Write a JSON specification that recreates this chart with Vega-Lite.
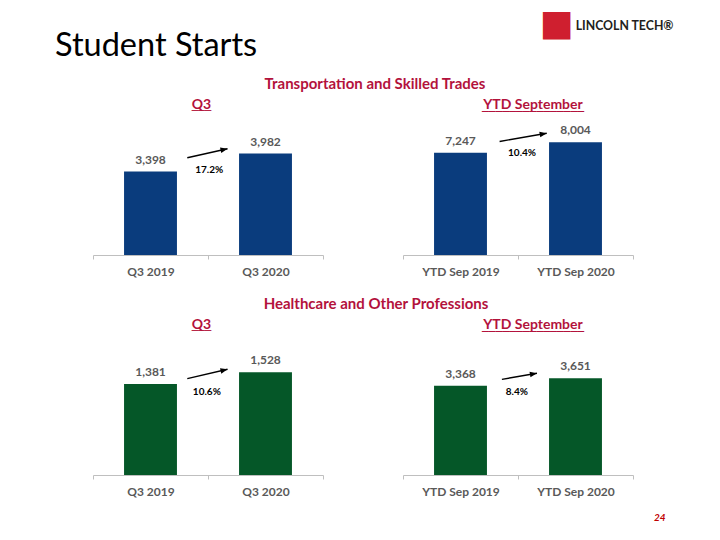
{
  "$schema": "https://vega.github.io/schema/vega-lite/v6.json",
  "background": "white",
  "padding": {"left": 55, "top": 5, "right": 5, "bottom": 5},
  "config": {
    "view": {"stroke": null},
    "font": "Lato",
    "title": {"font": "Lato"},
    "axis": {"title": null, "labelFont": "Lato", "labelFontSize": 12, "labelFontWeight": "bold", "labelColor": "#595959", "domainColor": "#BFBFBF", "tickColor": "#BFBFBF", "tickSize": 4, "tickBand": "extent", "labelPadding": 7, "labelAngle": 0, "grid": false}
  },
  "datasets": {
    "starts": [
      {"program": "Transportation and Skilled Trades", "span": "Q3", "period": "Q3 2019", "starts": 3398},
      {"program": "Transportation and Skilled Trades", "span": "Q3", "period": "Q3 2020", "starts": 3982},
      {"program": "Transportation and Skilled Trades", "span": "YTD September", "period": "YTD Sep 2019", "starts": 7247},
      {"program": "Transportation and Skilled Trades", "span": "YTD September", "period": "YTD Sep 2020", "starts": 8004},
      {"program": "Healthcare and Other Professions", "span": "Q3", "period": "Q3 2019", "starts": 1381},
      {"program": "Healthcare and Other Professions", "span": "Q3", "period": "Q3 2020", "starts": 1528},
      {"program": "Healthcare and Other Professions", "span": "YTD September", "period": "YTD Sep 2019", "starts": 3368},
      {"program": "Healthcare and Other Professions", "span": "YTD September", "period": "YTD Sep 2020", "starts": 3651}
    ],
    "changes": [
      {"program": "Transportation and Skilled Trades", "span": "Q3", "change": 0.172, "x_from": 0.82, "x_to": 1.17, "y_from": 3844, "y_to": 4136, "label_x": 1.01, "label_y": 3432},
      {"program": "Transportation and Skilled Trades", "span": "YTD September", "change": 0.104, "x_from": 0.84, "x_to": 1.25, "y_from": 8054, "y_to": 8643, "label_x": 1.035, "label_y": 7202},
      {"program": "Healthcare and Other Professions", "span": "Q3", "change": 0.106, "x_from": 0.82, "x_to": 1.17, "y_from": 1448, "y_to": 1566, "label_x": 0.99, "label_y": 1285},
      {"program": "Healthcare and Other Professions", "span": "YTD September", "change": 0.084, "x_from": 0.86, "x_to": 1.165, "y_from": 3613, "y_to": 3840, "label_x": 0.99, "label_y": 3145}
    ]
  },
  "title": {"text": "■", "color": "#CF1F2F", "anchor": "end", "font": "DejaVu Sans", "fontSize": 36, "fontWeight": "normal", "dx": -100, "offset": -23},
  "vconcat": [
    {
      "title": {"text": "LINCOLN TECH®", "anchor": "end", "font": "Lato", "fontWeight": "bold", "fontSize": 12.3, "color": "#231F20", "dx": 8, "offset": -2},
      "vconcat": [
        {
          "title": {"text": "24", "orient": "bottom", "anchor": "end", "font": "Lato", "fontStyle": "italic", "fontWeight": "bold", "fontSize": 10, "color": "#C00000", "dx": 32, "offset": 16},
          "vconcat": [
            {
              "title": {"text": "Student Starts", "anchor": "start", "font": "Lato", "fontSize": 32.5, "fontWeight": "normal", "color": "#000000", "dx": -37.5, "offset": 14.5},
              "spacing": 20,
              "vconcat": [
                {
                  "title": {"text": "Transportation and Skilled Trades", "anchor": "middle", "fontSize": 15, "fontWeight": "bold", "color": "#B3123C", "dx": 12, "offset": 6},
                  "spacing": 78,
                  "hconcat": [
                    {
                      "width": 230, "height": 133,
                      "title": {"text": "Q3", "subtitle": "___", "subtitleFont": "DejaVu Sans", "subtitleFontSize": 13, "subtitleColor": "#B3123C", "subtitlePadding": -14, "fontSize": 14, "fontWeight": "bold", "color": "#B3123C", "dx": -6.5, "offset": 10},
                      "layer": [
                        {"data": {"name": "starts"}, "transform": [{"filter": "datum.program === 'Transportation and Skilled Trades' && datum.span === 'Q3'"}],
                         "mark": {"type": "bar", "width": {"band": 0.46}, "color": "#0A3C7D"},
                         "encoding": {"x": {"field": "period", "type": "nominal", "sort": null, "scale": {"paddingInner": 0, "paddingOuter": 0}},
                                      "y": {"field": "starts", "type": "quantitative", "scale": {"domain": [690, 5005], "zero": false, "nice": false, "clamp": true}, "axis": null}}},
                        {"data": {"name": "starts"}, "transform": [{"filter": "datum.program === 'Transportation and Skilled Trades' && datum.span === 'Q3'"}],
                         "mark": {"type": "text", "dy": -12, "fontSize": 12, "fontWeight": "bold", "color": "#595959", "baseline": "middle"},
                         "encoding": {"x": {"field": "period", "type": "nominal", "sort": null, "scale": {"paddingInner": 0, "paddingOuter": 0}, "axis": null},
                                      "y": {"field": "starts", "type": "quantitative", "scale": {"domain": [690, 5005], "zero": false, "nice": false, "clamp": true}, "axis": null},
                                      "text": {"field": "starts", "type": "quantitative", "format": ","}}},
                        {"data": {"name": "changes"}, "transform": [{"filter": "datum.program === 'Transportation and Skilled Trades' && datum.span === 'Q3'"}],
                         "mark": {"type": "rule", "strokeWidth": 1.4, "color": "#000000"},
                         "encoding": {"x": {"field": "x_from", "type": "quantitative", "scale": {"domain": [0, 2], "nice": false, "zero": false}, "axis": null}, "x2": {"field": "x_to"},
                                      "y": {"field": "y_from", "type": "quantitative", "scale": {"domain": [690, 5005], "zero": false, "nice": false, "clamp": true}, "axis": null}, "y2": {"field": "y_to"}}},
                        {"data": {"name": "changes"}, "transform": [{"filter": "datum.program === 'Transportation and Skilled Trades' && datum.span === 'Q3'"}],
                         "mark": {"type": "point", "shape": "M0,0L-1,-0.4L-1,0.4Z", "filled": true, "opacity": 1, "color": "#000000", "size": 200, "angle": -12.5},
                         "encoding": {"x": {"field": "x_to", "type": "quantitative", "scale": {"domain": [0, 2], "nice": false, "zero": false}, "axis": null},
                                      "y": {"field": "y_to", "type": "quantitative", "scale": {"domain": [690, 5005], "zero": false, "nice": false, "clamp": true}, "axis": null}}},
                        {"data": {"name": "changes"}, "transform": [{"filter": "datum.program === 'Transportation and Skilled Trades' && datum.span === 'Q3'"}],
                         "mark": {"type": "text", "fontSize": 10, "fontWeight": "bold", "color": "#000000", "baseline": "middle"},
                         "encoding": {"x": {"field": "label_x", "type": "quantitative", "scale": {"domain": [0, 2], "nice": false, "zero": false}, "axis": null},
                                      "y": {"field": "label_y", "type": "quantitative", "scale": {"domain": [690, 5005], "zero": false, "nice": false, "clamp": true}, "axis": null},
                                      "text": {"field": "change", "type": "quantitative", "format": ".1%"}}}
                      ],
                      "resolve": {"scale": {"x": "independent"}}
                    },
                    {
                      "width": 230, "height": 133,
                      "title": {"text": "YTD September", "subtitle": "_______________", "subtitleFont": "DejaVu Sans", "subtitleFontSize": 13.6, "subtitleColor": "#B3123C", "subtitlePadding": -14, "fontSize": 14, "fontWeight": "bold", "color": "#B3123C", "dx": 15, "offset": 10},
                      "layer": [
                        {"data": {"name": "starts"}, "transform": [{"filter": "datum.program === 'Transportation and Skilled Trades' && datum.span === 'YTD September'"}],
                         "mark": {"type": "bar", "width": {"band": 0.46}, "color": "#0A3C7D"},
                         "encoding": {"x": {"field": "period", "type": "nominal", "sort": null, "scale": {"paddingInner": 0, "paddingOuter": 0}},
                                      "y": {"field": "starts", "type": "quantitative", "scale": {"domain": [0, 9437], "nice": false}, "axis": null}}},
                        {"data": {"name": "starts"}, "transform": [{"filter": "datum.program === 'Transportation and Skilled Trades' && datum.span === 'YTD September'"}],
                         "mark": {"type": "text", "dy": -12, "fontSize": 12, "fontWeight": "bold", "color": "#595959", "baseline": "middle"},
                         "encoding": {"x": {"field": "period", "type": "nominal", "sort": null, "scale": {"paddingInner": 0, "paddingOuter": 0}, "axis": null},
                                      "y": {"field": "starts", "type": "quantitative", "scale": {"domain": [0, 9437], "nice": false}, "axis": null},
                                      "text": {"field": "starts", "type": "quantitative", "format": ","}}},
                        {"data": {"name": "changes"}, "transform": [{"filter": "datum.program === 'Transportation and Skilled Trades' && datum.span === 'YTD September'"}],
                         "mark": {"type": "rule", "strokeWidth": 1.4, "color": "#000000"},
                         "encoding": {"x": {"field": "x_from", "type": "quantitative", "scale": {"domain": [0, 2], "nice": false, "zero": false}, "axis": null}, "x2": {"field": "x_to"},
                                      "y": {"field": "y_from", "type": "quantitative", "scale": {"domain": [0, 9437], "nice": false}, "axis": null}, "y2": {"field": "y_to"}}},
                        {"data": {"name": "changes"}, "transform": [{"filter": "datum.program === 'Transportation and Skilled Trades' && datum.span === 'YTD September'"}],
                         "mark": {"type": "point", "shape": "M0,0L-1,-0.4L-1,0.4Z", "filled": true, "opacity": 1, "color": "#000000", "size": 200, "angle": -10},
                         "encoding": {"x": {"field": "x_to", "type": "quantitative", "scale": {"domain": [0, 2], "nice": false, "zero": false}, "axis": null},
                                      "y": {"field": "y_to", "type": "quantitative", "scale": {"domain": [0, 9437], "nice": false}, "axis": null}}},
                        {"data": {"name": "changes"}, "transform": [{"filter": "datum.program === 'Transportation and Skilled Trades' && datum.span === 'YTD September'"}],
                         "mark": {"type": "text", "fontSize": 10, "fontWeight": "bold", "color": "#000000", "baseline": "middle"},
                         "encoding": {"x": {"field": "label_x", "type": "quantitative", "scale": {"domain": [0, 2], "nice": false, "zero": false}, "axis": null},
                                      "y": {"field": "label_y", "type": "quantitative", "scale": {"domain": [0, 9437], "nice": false}, "axis": null},
                                      "text": {"field": "change", "type": "quantitative", "format": ".1%"}}}
                      ],
                      "resolve": {"scale": {"x": "independent"}}
                    }
                  ]
                },
                {
                  "title": {"text": "Healthcare and Other Professions", "anchor": "middle", "fontSize": 15, "fontWeight": "bold", "color": "#B3123C", "dx": 13, "offset": 6},
                  "spacing": 78,
                  "hconcat": [
                    {
                      "width": 230, "height": 133,
                      "title": {"text": "Q3", "subtitle": "___", "subtitleFont": "DejaVu Sans", "subtitleFontSize": 13, "subtitleColor": "#B3123C", "subtitlePadding": -14, "fontSize": 14, "fontWeight": "bold", "color": "#B3123C", "dx": -6.5, "offset": 10},
                      "layer": [
                        {"data": {"name": "starts"}, "transform": [{"filter": "datum.program === 'Healthcare and Other Professions' && datum.span === 'Q3'"}],
                         "mark": {"type": "bar", "width": {"band": 0.46}, "color": "#055728"},
                         "encoding": {"x": {"field": "period", "type": "nominal", "sort": null, "scale": {"paddingInner": 0, "paddingOuter": 0}},
                                      "y": {"field": "starts", "type": "quantitative", "scale": {"domain": [238, 1909], "zero": false, "nice": false, "clamp": true}, "axis": null}}},
                        {"data": {"name": "starts"}, "transform": [{"filter": "datum.program === 'Healthcare and Other Professions' && datum.span === 'Q3'"}],
                         "mark": {"type": "text", "dy": -12, "fontSize": 12, "fontWeight": "bold", "color": "#595959", "baseline": "middle"},
                         "encoding": {"x": {"field": "period", "type": "nominal", "sort": null, "scale": {"paddingInner": 0, "paddingOuter": 0}, "axis": null},
                                      "y": {"field": "starts", "type": "quantitative", "scale": {"domain": [238, 1909], "zero": false, "nice": false, "clamp": true}, "axis": null},
                                      "text": {"field": "starts", "type": "quantitative", "format": ","}}},
                        {"data": {"name": "changes"}, "transform": [{"filter": "datum.program === 'Healthcare and Other Professions' && datum.span === 'Q3'"}],
                         "mark": {"type": "rule", "strokeWidth": 1.4, "color": "#000000"},
                         "encoding": {"x": {"field": "x_from", "type": "quantitative", "scale": {"domain": [0, 2], "nice": false, "zero": false}, "axis": null}, "x2": {"field": "x_to"},
                                      "y": {"field": "y_from", "type": "quantitative", "scale": {"domain": [238, 1909], "zero": false, "nice": false, "clamp": true}, "axis": null}, "y2": {"field": "y_to"}}},
                        {"data": {"name": "changes"}, "transform": [{"filter": "datum.program === 'Healthcare and Other Professions' && datum.span === 'Q3'"}],
                         "mark": {"type": "point", "shape": "M0,0L-1,-0.4L-1,0.4Z", "filled": true, "opacity": 1, "color": "#000000", "size": 200, "angle": -13},
                         "encoding": {"x": {"field": "x_to", "type": "quantitative", "scale": {"domain": [0, 2], "nice": false, "zero": false}, "axis": null},
                                      "y": {"field": "y_to", "type": "quantitative", "scale": {"domain": [238, 1909], "zero": false, "nice": false, "clamp": true}, "axis": null}}},
                        {"data": {"name": "changes"}, "transform": [{"filter": "datum.program === 'Healthcare and Other Professions' && datum.span === 'Q3'"}],
                         "mark": {"type": "text", "fontSize": 10, "fontWeight": "bold", "color": "#000000", "baseline": "middle"},
                         "encoding": {"x": {"field": "label_x", "type": "quantitative", "scale": {"domain": [0, 2], "nice": false, "zero": false}, "axis": null},
                                      "y": {"field": "label_y", "type": "quantitative", "scale": {"domain": [238, 1909], "zero": false, "nice": false, "clamp": true}, "axis": null},
                                      "text": {"field": "change", "type": "quantitative", "format": ".1%"}}}
                      ],
                      "resolve": {"scale": {"x": "independent"}}
                    },
                    {
                      "width": 230, "height": 133,
                      "title": {"text": "YTD September", "subtitle": "_______________", "subtitleFont": "DejaVu Sans", "subtitleFontSize": 13.6, "subtitleColor": "#B3123C", "subtitlePadding": -14, "fontSize": 14, "fontWeight": "bold", "color": "#B3123C", "dx": 15, "offset": 10},
                      "layer": [
                        {"data": {"name": "starts"}, "transform": [{"filter": "datum.program === 'Healthcare and Other Professions' && datum.span === 'YTD September'"}],
                         "mark": {"type": "bar", "width": {"band": 0.46}, "color": "#055728"},
                         "encoding": {"x": {"field": "period", "type": "nominal", "sort": null, "scale": {"paddingInner": 0, "paddingOuter": 0}},
                                      "y": {"field": "starts", "type": "quantitative", "scale": {"domain": [0, 5022], "nice": false}, "axis": null}}},
                        {"data": {"name": "starts"}, "transform": [{"filter": "datum.program === 'Healthcare and Other Professions' && datum.span === 'YTD September'"}],
                         "mark": {"type": "text", "dy": -12, "fontSize": 12, "fontWeight": "bold", "color": "#595959", "baseline": "middle"},
                         "encoding": {"x": {"field": "period", "type": "nominal", "sort": null, "scale": {"paddingInner": 0, "paddingOuter": 0}, "axis": null},
                                      "y": {"field": "starts", "type": "quantitative", "scale": {"domain": [0, 5022], "nice": false}, "axis": null},
                                      "text": {"field": "starts", "type": "quantitative", "format": ","}}},
                        {"data": {"name": "changes"}, "transform": [{"filter": "datum.program === 'Healthcare and Other Professions' && datum.span === 'YTD September'"}],
                         "mark": {"type": "rule", "strokeWidth": 1.4, "color": "#000000"},
                         "encoding": {"x": {"field": "x_from", "type": "quantitative", "scale": {"domain": [0, 2], "nice": false, "zero": false}, "axis": null}, "x2": {"field": "x_to"},
                                      "y": {"field": "y_from", "type": "quantitative", "scale": {"domain": [0, 5022], "nice": false}, "axis": null}, "y2": {"field": "y_to"}}},
                        {"data": {"name": "changes"}, "transform": [{"filter": "datum.program === 'Healthcare and Other Professions' && datum.span === 'YTD September'"}],
                         "mark": {"type": "point", "shape": "M0,0L-1,-0.4L-1,0.4Z", "filled": true, "opacity": 1, "color": "#000000", "size": 200, "angle": -9.7},
                         "encoding": {"x": {"field": "x_to", "type": "quantitative", "scale": {"domain": [0, 2], "nice": false, "zero": false}, "axis": null},
                                      "y": {"field": "y_to", "type": "quantitative", "scale": {"domain": [0, 5022], "nice": false}, "axis": null}}},
                        {"data": {"name": "changes"}, "transform": [{"filter": "datum.program === 'Healthcare and Other Professions' && datum.span === 'YTD September'"}],
                         "mark": {"type": "text", "fontSize": 10, "fontWeight": "bold", "color": "#000000", "baseline": "middle"},
                         "encoding": {"x": {"field": "label_x", "type": "quantitative", "scale": {"domain": [0, 2], "nice": false, "zero": false}, "axis": null},
                                      "y": {"field": "label_y", "type": "quantitative", "scale": {"domain": [0, 5022], "nice": false}, "axis": null},
                                      "text": {"field": "change", "type": "quantitative", "format": ".1%"}}}
                      ],
                      "resolve": {"scale": {"x": "independent"}}
                    }
                  ]
                }
              ]
            }
          ]
        }
      ]
    }
  ]
}
